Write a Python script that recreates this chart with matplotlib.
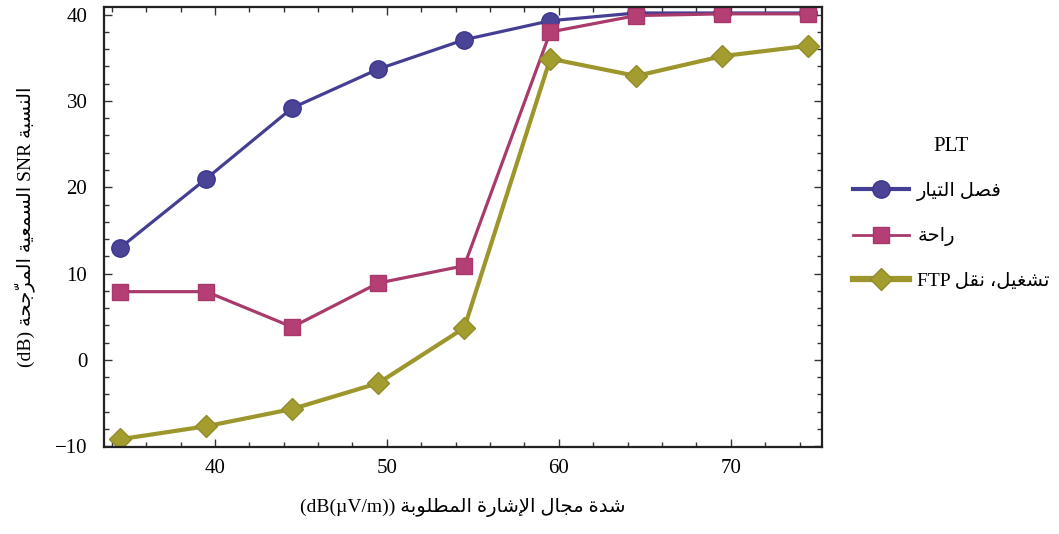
import matplotlib
matplotlib.use("Agg")
import matplotlib.pyplot as plt
from matplotlib.ticker import MultipleLocator

plt.rcParams['font.family'] = ['Liberation Serif', 'DejaVu Sans']

# data
field = [34.5, 39.5, 44.5, 49.5, 54.5, 59.5, 64.5, 69.5, 74.5]
snr_cut = [13.0, 21.0, 29.2, 33.7, 37.1, 39.3, 40.2, 40.2, 40.2]
snr_idle = [7.9, 7.9, 3.8, 8.9, 10.9, 38.0, 39.9, 40.1, 40.1]
snr_ftp = [-9.2, -7.7, -5.7, -2.7, 3.7, 34.9, 32.9, 35.2, 36.4]

labels = ["فصل التيار", "راحة", "تشغيل، نقل FTP"]
legend_title = "PLT"
xlabel = "شدة مجال الإشارة المطلوبة (dB(µV/m))"
ylabel = "النسبة SNR السمعية المرجّحة (dB)"
xticks = [40, 50, 60, 70]
yticks = [-10, 0, 10, 20, 30, 40]

# minimal arabic shaping (iso, fin, ini, med) since matplotlib has no bidi/shaping
FORMS = {
    'ا': ('\uFE8D', '\uFE8E', None, None),
    'إ': ('\uFE87', '\uFE88', None, None),
    'ب': ('\uFE8F', '\uFE90', '\uFE91', '\uFE92'),
    'ة': ('\uFE93', '\uFE94', None, None),
    'ت': ('\uFE95', '\uFE96', '\uFE97', '\uFE98'),
    'ج': ('\uFE9D', '\uFE9E', '\uFE9F', '\uFEA0'),
    'ح': ('\uFEA1', '\uFEA2', '\uFEA3', '\uFEA4'),
    'د': ('\uFEA9', '\uFEAA', None, None),
    'ر': ('\uFEAD', '\uFEAE', None, None),
    'س': ('\uFEB1', '\uFEB2', '\uFEB3', '\uFEB4'),
    'ش': ('\uFEB5', '\uFEB6', '\uFEB7', '\uFEB8'),
    'ص': ('\uFEB9', '\uFEBA', '\uFEBB', '\uFEBC'),
    'ط': ('\uFEC1', '\uFEC2', '\uFEC3', '\uFEC4'),
    'ع': ('\uFEC9', '\uFECA', '\uFECB', '\uFECC'),
    'غ': ('\uFECD', '\uFECE', '\uFECF', '\uFED0'),
    'ف': ('\uFED1', '\uFED2', '\uFED3', '\uFED4'),
    'ق': ('\uFED5', '\uFED6', '\uFED7', '\uFED8'),
    'ل': ('\uFEDD', '\uFEDE', '\uFEDF', '\uFEE0'),
    'م': ('\uFEE1', '\uFEE2', '\uFEE3', '\uFEE4'),
    'ن': ('\uFEE5', '\uFEE6', '\uFEE7', '\uFEE8'),
    'و': ('\uFEED', '\uFEEE', None, None),
    'ي': ('\uFEF1', '\uFEF2', '\uFEF3', '\uFEF4'),
    'لا': ('\uFEFB', '\uFEFC', None, None),
    'لإ': ('\uFEF9', '\uFEFA', None, None),
}
MARKS = '\u0651'


def shape_word(word):
    units = []  # [base, marks]
    for ch in word:
        if ch in MARKS and units:
            units[-1][1] += ch
        elif units and units[-1][0] == 'ل' and ch in 'اإ' and not units[-1][1]:
            units[-1][0] = 'ل' + ch
        else:
            units.append([ch, ''])
    out = []
    for i, (base, marks) in enumerate(units):
        if base not in FORMS:
            out.append(base + marks)
            continue
        f = FORMS[base]
        prev = i > 0 and units[i - 1][0] in FORMS and FORMS[units[i - 1][0]][2] is not None
        nxt = f[2] is not None and i + 1 < len(units) and units[i + 1][0] in FORMS
        if prev and nxt:
            g = f[3]
        elif prev:
            g = f[1]
        elif nxt:
            g = f[2]
        else:
            g = f[0]
        out.append(g + marks)
    return ''.join(reversed(out))


def visual(text):
    toks = []
    for t in text.split(' '):
        if any('\u0600' <= c <= '\u06ff' for c in t):
            toks.append(shape_word(t))
        else:
            toks.append(t)
    return ' '.join(reversed(toks))


fig = plt.figure(figsize=(10.59, 5.34), dpi=100)
ax = fig.add_axes([0.0982, 0.163, 0.678, 0.824])

ax.plot(field, snr_cut, color='#453f93', lw=2.3, marker='o', ms=12.5,
        mec='#3c3590', mfc='#4a4396', label=visual(labels[0]))
ax.plot(field, snr_idle, color='#a83a6c', lw=2.3, marker='s', ms=11.5,
        mec='#a8386a', mfc='#b43f74', label=visual(labels[1]))
ax.plot(field, snr_ftp, color='#9c962c', lw=3.0, marker='D', ms=11.5,
        mec='#928c2a', mfc='#a39d30', label=visual(labels[2]))

ax.set_xlim(33.55, 75.3)
ax.set_ylim(-10.1, 40.9)
ax.set_xticks(xticks)
ax.set_yticks(yticks)
ax.xaxis.set_minor_locator(MultipleLocator(2))
ax.yaxis.set_minor_locator(MultipleLocator(2))
ax.tick_params(which='both', direction='in', top=True, right=True, labelsize=15, color='#333333')
ax.tick_params(which='major', length=6, width=1)
ax.tick_params(which='minor', length=3.5, width=1)
ax.tick_params(axis='x', pad=9)
ax.tick_params(axis='y', pad=12)
for s in ax.spines.values():
    s.set_linewidth(1.6)
    s.set_color('#222222')

ax.set_xlabel(visual(xlabel), fontsize=14, labelpad=14)
ax.set_ylabel(visual(ylabel), fontsize=14, labelpad=14)

leg = fig.legend(loc='center left', bbox_to_anchor=(0.789, 0.60), frameon=False,
                 title=legend_title, fontsize=14, title_fontsize=15,
                 handlelength=2.9, labelspacing=1.35, handletextpad=0.4)
for line, lw in zip(leg.get_lines(), [3.0, 2.0, 4.5]):
    line.set_linewidth(lw)

fig.savefig('out.png', dpi=100)
